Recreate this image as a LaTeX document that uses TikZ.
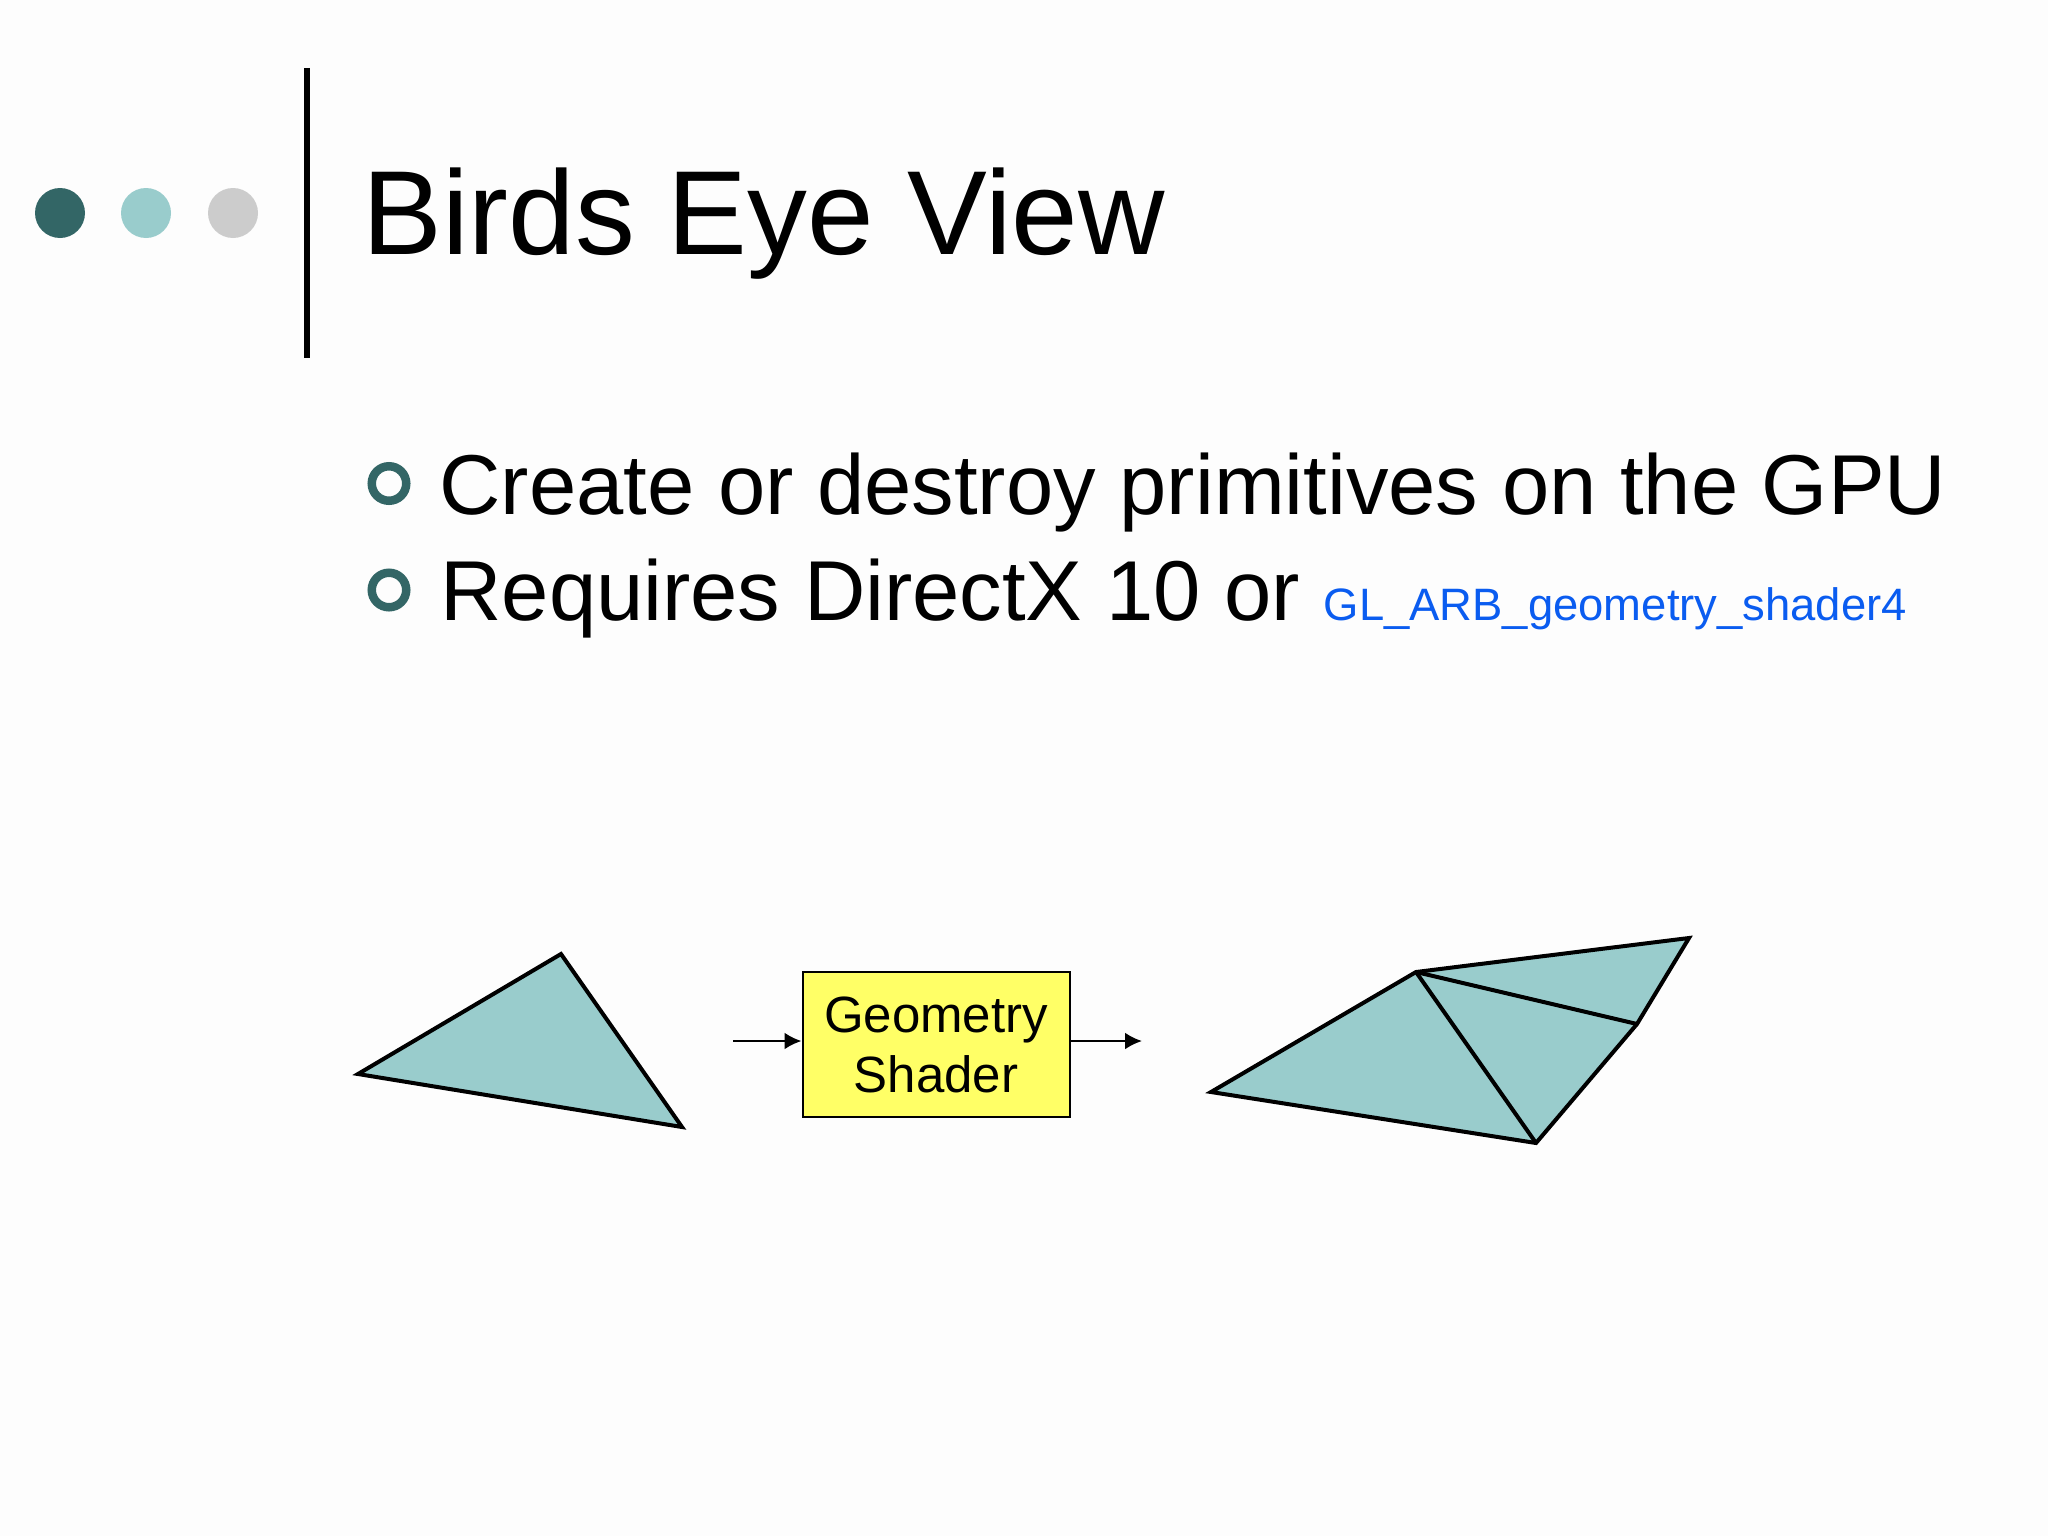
\documentclass[tikz,border=0pt]{standalone}
\usepackage{fontspec}
\setmainfont{Liberation Sans}
\usetikzlibrary{arrows.meta}
\definecolor{darkteal}{HTML}{336666}
\definecolor{lightteal}{HTML}{99CCCC}
\definecolor{dotgrey}{HTML}{CCCCCC}
\definecolor{linkblue}{HTML}{0A5CF0}
\definecolor{boxyellow}{HTML}{FFFF66}
\definecolor{bgcol}{HTML}{FDFDFD}
\tikzset{
  dot/.style={circle, inner sep=0pt, minimum size=25pt},
  ring/.style={circle, draw=darkteal, line width=4.25pt, inner sep=0pt, minimum size=17.25pt},
  bodytext/.style={anchor=base west, inner sep=0pt, font=\fontsize{42.5}{50}\selectfont},
  tri/.style={fill=lightteal, draw=black, line width=2pt, line join=miter},
  gsbox/.style={rectangle, draw=black, line width=1pt, fill=boxyellow, minimum width=133.5pt, minimum height=72.5pt, inner sep=0pt, align=center, font=\fontsize{25.5}{30}\selectfont},
  flow/.style={line width=1.3pt, -{Latex[length=8.5pt,width=8.5pt]}}
}
\begin{document}
\begin{tikzpicture}[x=0.5pt,y=-0.5pt]
\path[fill=bgcol] (0,0) rectangle (2048,1536);
\useasboundingbox (0,0) rectangle (2048,1536);
% header dots
\node[dot, fill=darkteal] (d1) at (60,213) {};
\node[dot, fill=lightteal] (d2) at (146,213) {};
\node[dot, fill=dotgrey] (d3) at (233,213) {};
% vertical rule
\coordinate (vtop) at (307,68);
\coordinate (vbot) at (307,358);
\draw[line width=3pt] (vtop) -- (vbot);
% title
\node[anchor=base west, inner sep=0pt, font=\fontsize{59.8}{70}\selectfont] (title) at (362,254) {Birds Eye View};
% bullets
\node[ring] (b1) at (389,483.5) {};
\node[ring] (b2) at (389,590) {};
\node[bodytext] (t1) at (439,514) {Create or destroy primitives on the GPU};
\node[bodytext] (t2) at (440,620) {Requires DirectX 10 or {\color{linkblue}\fontsize{22.7}{27}\selectfont GL\_ARB\_geometry\_shader4}};
% input triangle
\coordinate (p1) at (358,1074);
\coordinate (p2) at (561,954);
\coordinate (p3) at (682,1127);
\draw[tri] (p1) -- (p2) -- (p3) -- cycle;
% geometry shader box
\node[gsbox] (gs) at (936,1044.5) {Geometry\\Shader};
\coordinate (ain) at (733,1041);
\coordinate (aout) at (1142,1041);
\draw[flow] (ain) -- (ain -| gs.west);
\draw[flow] (aout -| gs.east) -- (aout);
% output triangles
\coordinate (qa) at (1211,1092);
\coordinate (qb) at (1416,972);
\coordinate (qc) at (1689,938);
\coordinate (qd) at (1637,1024);
\coordinate (qe) at (1536,1143);
\draw[tri] (qa) -- (qb) -- (qc) -- (qd) -- (qe) -- cycle;
\draw[line width=2pt] (qb) -- (qe);
\draw[line width=2pt] (qb) -- (qd);
\end{tikzpicture}
\end{document}
